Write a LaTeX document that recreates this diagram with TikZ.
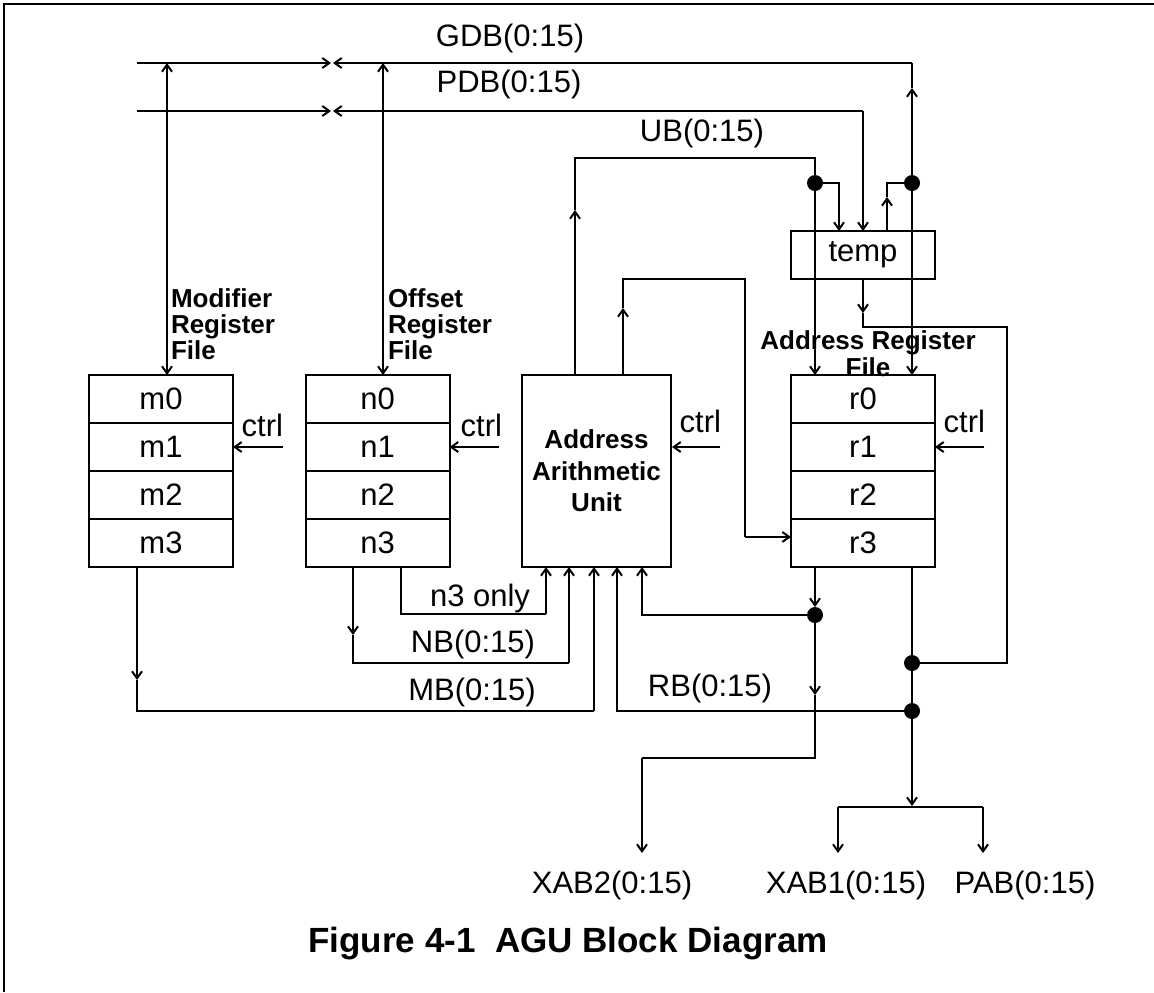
\documentclass[tikz,border=0pt]{standalone}
\usepackage{fontspec}
\setmainfont{Liberation Sans}
\usepackage{tikz}
\usetikzlibrary{arrows.meta, positioning}

\newcommand{\lbl}{\fontsize{15.5}{18}\selectfont}
\newcommand{\blbl}{\fontsize{13}{13}\selectfont\bfseries}

\begin{document}
\begin{tikzpicture}[
    x=0.5pt, y=-0.5pt,
    line width=1pt,
    >={Straight Barb[length=3.5pt,width=5pt]},
    reg/.style={rectangle, draw, minimum width=72pt, minimum height=24pt, inner sep=0pt, outer sep=0pt, font=\lbl},
    unit/.style={rectangle, draw, minimum width=74.5pt, minimum height=96pt, align=center, font=\blbl, execute at begin node=\setlength{\baselineskip}{15.75pt}},
    file/.style={inner sep=0pt, align=left, font=\blbl},
    bus/.style={inner sep=1pt, font=\lbl},
    arrow/.style={->}
]
    \useasboundingbox (0,0) rectangle (1154,992);
    \draw [line width=1.4pt] (4,992) -- (4,4) -- (1154,4);

    % register files
    \node (m0) [reg] at (161,399) {m0};
    \node (m1) [reg, below=0pt of m0] {m1};
    \node (m2) [reg, below=0pt of m1] {m2};
    \node (m3) [reg, below=0pt of m2] {m3};
    \node (n0) [reg] at (377.5,399) {n0};
    \node (n1) [reg, below=0pt of n0] {n1};
    \node (n2) [reg, below=0pt of n1] {n2};
    \node (n3) [reg, below=0pt of n2] {n3};
    \node (r0) [reg] at (863,399) {r0};
    \node (r1) [reg, below=0pt of r0] {r1};
    \node (r2) [reg, below=0pt of r1] {r2};
    \node (r3) [reg, below=0pt of r2] {r3};
    \node (aau) [unit] at (596.5,471) {Address\\Arithmetic\\Unit};
    \node (temp) [reg] at (863,255) {temp};

    \node (modf) [file, anchor=north west] at (170,288) {Modifier\\Register\\File};
    \node (offf) [file, anchor=north west] at (387,288) {Offset\\Register\\File};
    \node (addf) [file, align=center, anchor=north, execute at begin node=\setlength{\baselineskip}{10.5pt}] at (868,330) {Address Register\\File};

    % bus labels
    \node (gdb) [bus] at (510,38) {GDB(0:15)};
    \node (pdb) [bus] at (509,84) {PDB(0:15)};
    \node (ub) [bus] at (702,133) {UB(0:15)};
    \node (n3only) [bus] at (480,598) {n3 only};
    \node (nb) [bus] at (473,644) {NB(0:15)};
    \node (mb) [bus] at (472,692) {MB(0:15)};
    \node (rb) [bus] at (710,688) {RB(0:15)};
    \node (xab2) [bus] at (612,885) {XAB2(0:15)};
    \node (xab1) [bus] at (846,885) {XAB1(0:15)};
    \node (pab) [bus] at (1025,885) {PAB(0:15)};
    \node (title) [font=\fontsize{17.5}{20}\selectfont\bfseries] at (568,944) {Figure 4-1\ \ AGU Block Diagram};

    % ctrl inputs
    \node (ctrlm) [bus, anchor=south east] at (286,440) {ctrl};
    \node (ctrln) [bus, anchor=south east] at (505,440) {ctrl};
    \node (ctrla) [bus, anchor=south east] at (724,436) {ctrl};
    \node (ctrlr) [bus, anchor=south east] at (988,436) {ctrl};
    \draw [arrow] (ctrlm.south east |- m1.east) ++(-3,0) -- (m1.east);
    \draw [arrow] (ctrln.south east |- n1.east) ++(-6,0) -- (n1.east);
    \draw [arrow] (ctrla.south east |- m1.east) ++(-4,0) -- (aau.east |- m1.east);
    \draw [arrow] (ctrlr.south east |- r1.east) ++(-4,0) -- (r1.east);

    % junctions
    \coordinate (jub) at (815,183);
    \coordinate (jgdb) at (912,183);
    \coordinate (ja) at (815,615);
    \coordinate (jt) at (912,663);
    \coordinate (jr) at (912,711);

    % GDB and PDB
    \coordinate (gdbw) at (137,63);
    \coordinate (gdbe) at (912,63);
    \coordinate (pdbw) at (137,111);
    \coordinate (pdbe) at (863,111);
    \draw [arrow] (gdbw) -- (331,63);
    \draw [arrow] (gdbe) -- (333,63);
    \draw [arrow] (jgdb) -- (912,88);
    \draw (912,88) -- (gdbe);
    \draw [arrow] (jgdb) -- (jgdb |- r0.north);
    \draw [arrow] (pdbw) -- (331,111);
    \draw [arrow] (pdbe) -- (333,111);
    \draw [arrow] (pdbe) -- (pdbe |- temp.north);
    \draw [<->] (167,63) -- (167,375);
    \draw [<->] (383,63) -- (383,375);

    % UB and temp
    \coordinate (ubw) at (575,158);
    \draw [arrow] (ubw |- aau.north) -- (575,210);
    \draw (575,210) -- (ubw) -- (815,158) -- (jub);
    \draw [arrow] (jub) -- (839,183) -- (839,231);
    \draw [arrow] (jub) -- (jub |- r0.north);
    \draw [arrow] (887,231) -- (887,197);
    \draw (887,197) -- (887,183) -- (jgdb);
    \draw [arrow] (temp.south) -- (863,313);
    \draw (863,313) -- (863,327) -- (1007,327) -- (1007,663) -- (jt);

    % AAU output to r3
    \coordinate (ar) at (745,537);
    \draw [arrow] (623,375) -- (623,308);
    \draw (623,308) -- (623,279) -- (745,279) -- (ar);
    \draw [arrow] (ar) -- (ar -| r3.west);

    % buses into AAU
    \draw (401,567) -- (401,614) -- (546,614);
    \draw [arrow] (546,614) -- (546,567);
    \draw [arrow] (353,567) -- (353,635);
    \draw (353,635) -- (353,663) -- (569,663);
    \draw [arrow] (569,663) -- (569,567);
    \draw [arrow] (137,567) -- (137,680);
    \draw (137,680) -- (137,711) -- (594,711);
    \draw [arrow] (594,711) -- (594,567);
    \draw [arrow] (jr) -- (617,711) -- (617,567);
    \draw [arrow] (ja) -- (642,615) -- (642,567);

    % r-file outputs
    \draw [arrow, shorten >=4pt] (ja |- r3.south) -- (ja);
    \draw [arrow] (ja) -- (815,695);
    \draw (815,695) -- (815,758) -- (642,758);
    \draw [arrow] (642,758) -- (642,853);
    \draw (jr |- r3.south) -- (jr);
    \draw [arrow] (jr) -- (912,806);
    \draw (838,807) -- (983,807);
    \draw [arrow] (838,807) -- (838,853);
    \draw [arrow] (983,807) -- (983,853);

    \foreach \j in {jub, jgdb, ja, jt, jr}
        \fill (\j) circle (4pt);
\end{tikzpicture}
\end{document}
